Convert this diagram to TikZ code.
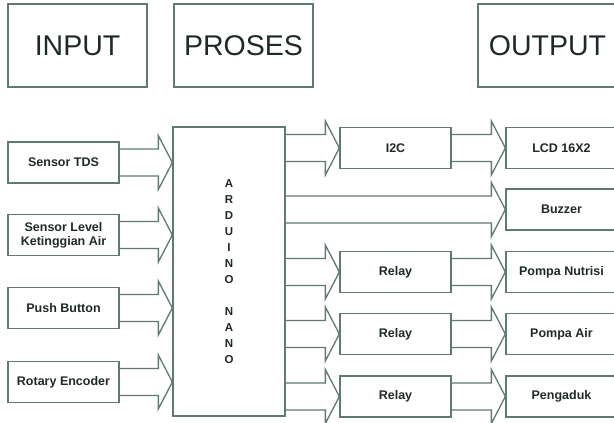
\documentclass[tikz,border=0pt]{standalone}
\usepackage{fontspec}
\setmainfont{Liberation Sans}
\usetikzlibrary{calc}

\definecolor{frame}{HTML}{5E7B6E}
\definecolor{ink}{HTML}{1E2A24}

% block arrow: from the left node, tip on the right node, at the height of the left one
\newcommand{\inarrow}[2]{%
  \draw[flow] let \p1=(#1.east), \p2=(#2.west) in
    (\x1,\y1+13.5pt) -- (\x2-14pt,\y1+13.5pt) -- (\x2-14pt,\y1+27pt) -- (\x2,\y1)
    -- (\x2-14pt,\y1-27pt) -- (\x2-14pt,\y1-13.5pt) -- (\x1,\y1-13.5pt);}
% same, at the height of the right node
\newcommand{\outarrow}[2]{%
  \draw[flow] let \p1=(#1.east), \p2=(#2.west) in
    (\x1,\y2+13.5pt) -- (\x2-14pt,\y2+13.5pt) -- (\x2-14pt,\y2+27pt) -- (\x2,\y2)
    -- (\x2-14pt,\y2-27pt) -- (\x2-14pt,\y2-13.5pt) -- (\x1,\y2-13.5pt);}

\tikzset{
  head/.style={draw=frame, line width=1.3pt, minimum width=139pt, minimum height=83pt,
    inner sep=0pt, text=ink, font=\fontsize{28.5}{30}\selectfont},
  block/.style={draw=frame, line width=1.3pt, minimum width=111pt, minimum height=41pt,
    inner sep=0pt, text=ink, align=center, font=\bfseries\fontsize{12.5}{14}\selectfont},
  flow/.style={draw=frame, line width=1.3pt, line join=miter}
}

\begin{document}
\begin{tikzpicture}[x=1pt, y=-1pt]

\useasboundingbox (0,0) rectangle (614,423);
\clip (0,0) rectangle (614,423);

% Headings
\node[head] (hin)  at (77.5, 45.5)  {INPUT};
\node[head] (hpro) at (243.5, 45.5) {PROSES};
\node[head] (hout) at (547.5, 45.5) {OUTPUT};

% Input side
\node[block] (tds)   at (63.5, 162.5) {Sensor TDS};
\node[block] (level) at (63.5, 235)   {Sensor Level\\[0pt]Ketinggian Air};
\node[block] (push)  at (63.5, 308)   {Push Button};
\node[block] (enc)   at (63.5, 382)   {Rotary Encoder};

% Controller
\node[block, minimum width=112pt, minimum height=289pt,
      font=\bfseries\fontsize{11.5}{16}\selectfont] (nano) at (229, 271.5)
  {A\\R\\D\\U\\I\\N\\O\\ \\N\\A\\N\\O};

% Drivers
\node[block] (i2c)    at (395.5, 148)   {I2C};
\node[block] (relayA) at (395.5, 272)   {Relay};
\node[block] (relayB) at (395.5, 334)   {Relay};
\node[block] (relayC) at (395.5, 396.5) {Relay};

% Output side
\node[block] (lcd)    at (561.5, 148)   {LCD 16X2};
\node[block] (buzzer) at (561.5, 209.5) {Buzzer};
\node[block] (pumpN)  at (561.5, 272)   {Pompa Nutrisi};
\node[block] (pumpA)  at (561.5, 334)   {Pompa Air};
\node[block] (mixer)  at (561.5, 396.5) {Pengaduk};

% Arrows into the controller
\inarrow{tds}{nano}
\inarrow{level}{nano}
\inarrow{push}{nano}
\inarrow{enc}{nano}

% Arrows out of the controller
\outarrow{nano}{i2c}
\outarrow{nano}{buzzer}
\outarrow{nano}{relayA}
\outarrow{nano}{relayB}
\outarrow{nano}{relayC}

% Drivers to devices
\inarrow{i2c}{lcd}
\inarrow{relayA}{pumpN}
\inarrow{relayB}{pumpA}
\inarrow{relayC}{mixer}

\end{tikzpicture}
\end{document}
